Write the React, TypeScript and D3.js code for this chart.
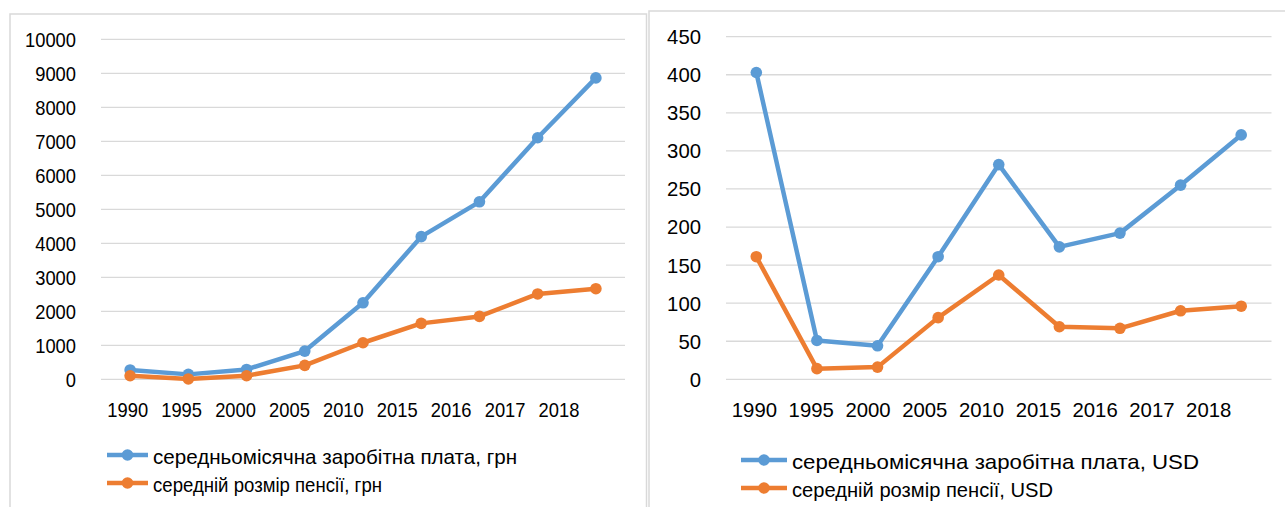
import React from 'react';
import * as d3 from 'd3';

// categories and values
const years = ['1990', '1995', '2000', '2005', '2010', '2015', '2016', '2017', '2018'];

const wageUah = [275, 145, 290, 830, 2250, 4195, 5220, 7105, 8865];
const pensionUah = [105, 10, 105, 410, 1075, 1645, 1850, 2510, 2665];
const uahTicks = [0, 1000, 2000, 3000, 4000, 5000, 6000, 7000, 8000, 9000, 10000];

const wageUsd = [403, 51, 44, 161, 282, 174, 192, 255, 321];
const pensionUsd = [161, 14, 16, 81, 137, 69, 67, 90, 96];
const usdTicks = [0, 50, 100, 150, 200, 250, 300, 350, 400, 450];

const legendUah = ['середньомісячна заробітна плата, грн', 'середній розмір пенсії, грн'];
const legendUsd = ['середньомісячна заробітна плата, USD', 'середній розмір пенсії, USD'];

const BLUE = '#5b9bd5';
const ORANGE = '#ed7d31';
const GRID = '#d9d9d9';
const FONT = '"Liberation Sans", Arial, sans-serif';

type PanelProps = {
    frame: [number, number, number];
    plotX: [number, number];
    plotY: [number, number];
    labelX: [number, number];
    yLabelRight: number;
    digitW: number;
    ticks: number[];
    max: number;
    wage: number[];
    pension: number[];
    legend: string[];
    legendLine: [number, number];
    legendRows: [number, number];
    legendWidths: [number, number];
};

function Panel(props: PanelProps) {
    const {frame, plotX, plotY, labelX, yLabelRight, digitW, ticks, max, wage, pension, legend, legendLine, legendRows, legendWidths} = props;

    const x = d3.scaleBand().domain(years).range(plotX);
    const xLab = d3.scalePoint().domain(years).range(labelX);
    const y = d3.scaleLinear().domain([0, max]).range(plotY);
    const cx = (i: number) => (x(years[i]) as number) + x.bandwidth() / 2;
    const line = d3.line<number>()
        .x((_, i) => cx(i))
        .y(d => y(d));

    const series = [
        {values: wage, color: BLUE},
        {values: pension, color: ORANGE},
    ];

    return (
        <g>
            <path d={`M${frame[0]},510V${frame[2]}H${frame[1]}V510`} fill="none" stroke={GRID} strokeWidth={1.5}/>
            {ticks.map(t => (
                <g key={t}>
                    <line x1={plotX[0]} x2={plotX[1]} y1={y(t)} y2={y(t)} stroke={GRID} strokeWidth={1.3}/>
                    <text x={yLabelRight} y={y(t) + 7.4} textAnchor="end" fontSize={21}
                          textLength={String(t).length * digitW} lengthAdjust="spacingAndGlyphs">{t}</text>
                </g>
            ))}
            {years.map(yr => (
                <text key={yr} x={xLab(yr)} y={417} textAnchor="middle" fontSize={21}
                      textLength={4 * digitW} lengthAdjust="spacingAndGlyphs">{yr}</text>
            ))}
            {series.map((s, k) => (
                <g key={k}>
                    <path d={line(s.values) || ''} fill="none" stroke={s.color} strokeWidth={4.5} strokeLinejoin="round"/>
                    {s.values.map((v, i) => (
                        <circle key={i} cx={cx(i)} cy={y(v)} r={5.8} fill={s.color}/>
                    ))}
                </g>
            ))}
            {legend.map((label, k) => (
                <g key={label}>
                    <line x1={legendLine[0]} x2={legendLine[1]} y1={legendRows[k]} y2={legendRows[k]}
                          stroke={series[k].color} strokeWidth={4.5}/>
                    <circle cx={(legendLine[0] + legendLine[1]) / 2} cy={legendRows[k]} r={5.8} fill={series[k].color}/>
                    <text x={legendLine[1] + 5} y={legendRows[k] + 8.5} fontSize={21}
                          textLength={legendWidths[k]} lengthAdjust="spacingAndGlyphs">{label}</text>
                </g>
            ))}
        </g>
    );
}

export default function App() {
    return (
        <svg width={1285} height={507} style={{position: 'absolute', left: 0, top: 0, background: '#fff'}}
             fontFamily={FONT} fill="#000">
            <rect width={1285} height={507} fill="#fff"/>
            <Panel frame={[10, 646.5, 14]} plotX={[101, 625]} plotY={[379.3, 39.3]} labelX={[127.7, 559]}
                   yLabelRight={76} digitW={10.2} ticks={uahTicks} max={10000}
                   wage={wageUah} pension={pensionUah} legend={legendUah}
                   legendLine={[107, 148]} legendRows={[455, 483]} legendWidths={[364, 229]}/>
            <Panel frame={[649, 1290, 11]} plotX={[726, 1271.5]} plotY={[379.3, 36.7]} labelX={[754.4, 1208.7]}
                   yLabelRight={701} digitW={11.3} ticks={usdTicks} max={450}
                   wage={wageUsd} pension={pensionUsd} legend={legendUsd}
                   legendLine={[741, 787]} legendRows={[460, 488]} legendWidths={[407, 261]}/>
        </svg>
    );
}
